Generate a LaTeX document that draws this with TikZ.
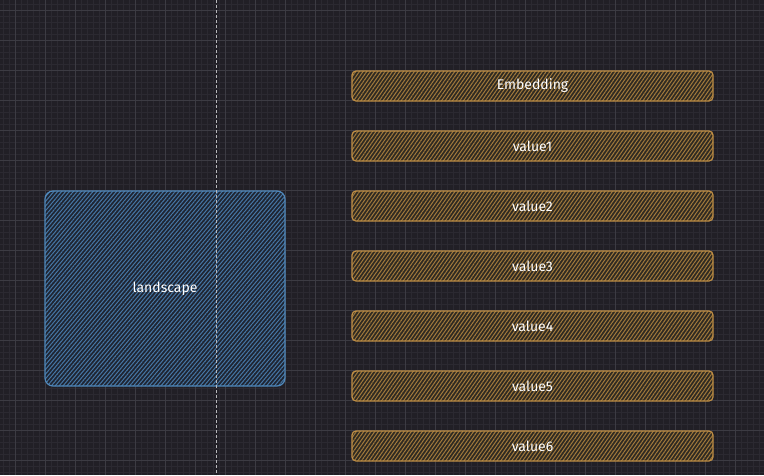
\documentclass[tikz,border=0pt]{standalone}
\usepackage{fontspec}
\setmainfont{Fira Sans}
\usetikzlibrary{patterns.meta}
\definecolor{bg}{HTML}{211F26}
\definecolor{gridminor}{HTML}{2B2931}
\definecolor{gridmajor}{HTML}{3C3B43}
\definecolor{orstroke}{HTML}{BF8E45}
\definecolor{orhatch}{HTML}{A27A3C}
\definecolor{orfill}{HTML}{2F2A22}
\definecolor{blstroke}{HTML}{5089BC}
\definecolor{blhatch}{HTML}{4677A6}
\definecolor{blfill}{HTML}{1F2532}
\definecolor{dashcol}{HTML}{B8B8BC}
\tikzset{
  bar/.style={draw=orstroke, line width=1.2pt, rounded corners=4pt,
    preaction={fill=orfill},
    pattern={Lines[angle=55,distance=3pt,line width=1pt]}, pattern color=orhatch,
    minimum width=361pt, minimum height=30pt, inner sep=0pt,
    text=white, font=\fontsize{14}{16}\selectfont},
  bigbox/.style={draw=blstroke, line width=1.2pt, rounded corners=8pt,
    preaction={fill=blfill},
    pattern={Lines[angle=50,distance=3pt,line width=1pt]}, pattern color=blhatch,
    minimum width=240pt, minimum height=195pt, inner sep=0pt,
    text=white, font=\fontsize{14}{16}\selectfont},
  lbl/.style={text=white, font=\fontsize{14}{16}\selectfont},
}
\begin{document}
\begin{tikzpicture}[x=1pt,y=-1pt]
\fill[bg] (0,0) rectangle (764,475);
\useasboundingbox (0,0) rectangle (764,475);
\foreach \x in {3,9,...,759} \draw[gridminor, line width=0.5pt] (\x,0) -- (\x,475);
\foreach \y in {4,10,...,472} \draw[gridminor, line width=0.5pt] (0,\y) -- (764,\y);
\foreach \x in {15,45,...,759} \draw[gridmajor, line width=0.8pt] (\x,0) -- (\x,475);
\foreach \y in {10,40,...,472} \draw[gridmajor, line width=0.8pt] (0,\y) -- (764,\y);

\node[bigbox] (land) at (165,288.5) {};
\node[lbl] (landlbl) at (land.center) {landscape};

\coordinate (dtop) at (216,0);
\coordinate (dbot) at (216,475);
\draw[dashcol, line width=1pt, dash pattern=on 3pt off 2pt] (dtop) -- (dbot);

\node[bar] (emb) at (532.5,86) {};
\node[lbl] at (emb.center) {Embedding};
\node[bar] (v1) at (532.5,146) {};
\node[lbl] at (v1.center) {value1};
\node[bar] (v2) at (532.5,206) {};
\node[lbl] at (v2.center) {value2};
\node[bar] (v3) at (532.5,266) {};
\node[lbl] at (v3.center) {value3};
\node[bar] (v4) at (532.5,326) {};
\node[lbl] at (v4.center) {value4};
\node[bar] (v5) at (532.5,386) {};
\node[lbl] at (v5.center) {value5};
\node[bar] (v6) at (532.5,446) {};
\node[lbl] at (v6.center) {value6};
\end{tikzpicture}
\end{document}
